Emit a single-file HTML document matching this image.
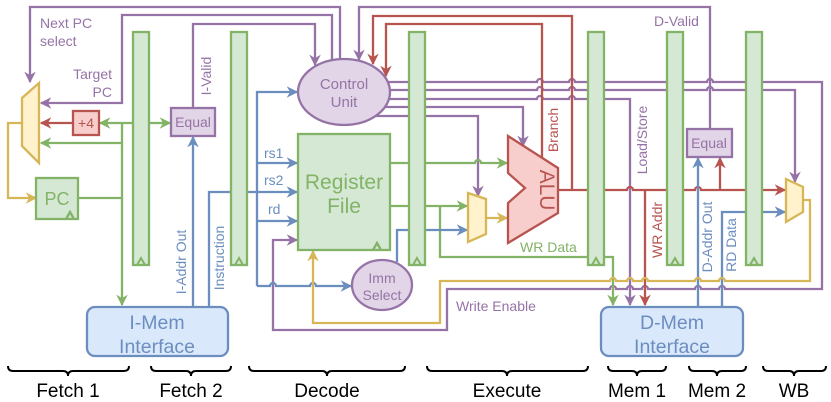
<!DOCTYPE html>
<html><head><meta charset="utf-8"><style>
html,body{margin:0;padding:0;background:#fff;}
svg{display:block;font-family:"Liberation Sans",Arial,sans-serif;}
</style></head><body>
<svg width="831" height="402" viewBox="0 0 831 402" xmlns="http://www.w3.org/2000/svg">
<defs>
<marker id="mp" viewBox="0 0 10 10" refX="9" refY="5" markerWidth="5" markerHeight="5" orient="auto" markerUnits="strokeWidth"><path d="M0,0 L10,5 L0,10 L3,5 Z" fill="#9673a6"/></marker>
<marker id="mg" viewBox="0 0 10 10" refX="9" refY="5" markerWidth="5" markerHeight="5" orient="auto" markerUnits="strokeWidth"><path d="M0,0 L10,5 L0,10 L3,5 Z" fill="#82b366"/></marker>
<marker id="mr" viewBox="0 0 10 10" refX="9" refY="5" markerWidth="5" markerHeight="5" orient="auto" markerUnits="strokeWidth"><path d="M0,0 L10,5 L0,10 L3,5 Z" fill="#b85450"/></marker>
<marker id="mb" viewBox="0 0 10 10" refX="9" refY="5" markerWidth="5" markerHeight="5" orient="auto" markerUnits="strokeWidth"><path d="M0,0 L10,5 L0,10 L3,5 Z" fill="#6c8ebf"/></marker>
<marker id="my" viewBox="0 0 10 10" refX="9" refY="5" markerWidth="5" markerHeight="5" orient="auto" markerUnits="strokeWidth"><path d="M0,0 L10,5 L0,10 L3,5 Z" fill="#d6b656"/></marker>
</defs>

<g fill="none" stroke-width="2.3">
<g stroke="#9673a6">
<path d="M340 60 V7 H30 V82" marker-end="url(#mp)"/>
<path d="M332 62 V15 H122 V103 H41" marker-end="url(#mp)"/>
<path d="M193 108 V24 H315 V65" marker-end="url(#mp)"/>
<path d="M710 129 V7 H359 V60" marker-end="url(#mp)"/>
<path d="M388 82 H537 a3 3 0 0 1 6 0 H569 a3 3 0 0 1 6 0 H707 a3 3 0 0 1 6 0 H822 V289 H725 a3 3 0 0 0 -6 0 H701 a3 3 0 0 0 -6 0 H648 a3 3 0 0 0 -6 0 H633 a3 3 0 0 0 -6 0 H616 a3 3 0 0 0 -6 0 H447 V330 H273 V240 H297" marker-end="url(#mp)"/>
<path d="M390 90 H537 a3 3 0 0 1 6 0 H569 a3 3 0 0 1 6 0 H707 a3 3 0 0 1 6 0 H795 V182" marker-end="url(#mp)"/>
<path d="M389 99 H537 a3 3 0 0 1 6 0 H569 a3 3 0 0 1 6 0 H630 V305" marker-end="url(#mp)"/>
<path d="M385 107 H523 V146" marker-end="url(#mp)"/>
<path d="M375 116 H478 V196" marker-end="url(#mp)"/>
</g>
<g stroke="#b85450">
<path d="M558 190 H627 a3 3 0 0 1 6 0 H695 a3 3 0 0 1 6 0 H785" marker-end="url(#mr)"/>
<path d="M572 190 V16 H373 V64" marker-end="url(#mr)"/>
<path d="M542 158 V24 H386 V76" marker-end="url(#mr)"/>
<path d="M645 190 V305" marker-end="url(#mr)"/>
<path d="M720 190 V158" marker-end="url(#mr)"/>
<path d="M73 123 H41" marker-end="url(#mr)"/>
</g>
<g stroke="#82b366">
<path d="M78 198 H122"/>
<path d="M122 123 V305" marker-end="url(#mg)"/>
<path d="M122 123 H100" marker-end="url(#mg)"/>
<path d="M122 123 H170" marker-end="url(#mg)"/>
<path d="M122 143 H41" marker-end="url(#mg)"/>
<path d="M390 163 H475 a3 3 0 0 1 6 0 H507" marker-end="url(#mg)"/>
<path d="M390 206 H467" marker-end="url(#mg)"/>
<path d="M440 206 V257 H613 V305" marker-end="url(#mg)"/>
</g>
<g stroke="#6c8ebf">
<path d="M193 306 V137" marker-end="url(#mb)"/>
<path d="M209 306 V192 H297" marker-end="url(#mb)"/>
<path d="M257 286 V92 H297" marker-end="url(#mb)"/>
<path d="M257 163 H297" marker-end="url(#mb)"/>
<path d="M257 221 H297" marker-end="url(#mb)"/>
<path d="M257 286 H270 a3 3 0 0 1 6 0 H310 a3 3 0 0 1 6 0 H351" marker-end="url(#mb)"/>
<path d="M397 262 V230 H467" marker-end="url(#mb)"/>
<path d="M698 306 V158" marker-end="url(#mb)"/>
<path d="M722 306 V212 H785" marker-end="url(#mb)"/>
</g>
<g stroke="#d6b656">
<path d="M22 123 H8 V198 H36" marker-end="url(#my)"/>
<path d="M486 218 H507" marker-end="url(#my)"/>
<path d="M803 200 H810 V281 H725 a3 3 0 0 0 -6 0 H701 a3 3 0 0 0 -6 0 H648 a3 3 0 0 0 -6 0 H633 a3 3 0 0 0 -6 0 H616 a3 3 0 0 0 -6 0 H440 V323 H313 V251" marker-end="url(#my)"/>
</g>
</g>

<g fill="#d5e8d4" stroke="#82b366" stroke-width="2.3">
<rect x="133" y="32" width="16" height="233"/>
<rect x="231" y="32" width="16" height="233"/>
<rect x="409" y="32" width="16" height="233"/>
<rect x="588" y="32" width="16" height="233"/>
<rect x="667" y="32" width="16" height="233"/>
<rect x="746" y="32" width="16" height="233"/>
</g>
<g fill="none" stroke="#82b366" stroke-width="2">
<path d="M137 265 L141 258 L145 265"/>
<path d="M235 265 L239 258 L243 265"/>
<path d="M413 265 L417 258 L421 265"/>
<path d="M592 265 L596 258 L600 265"/>
<path d="M671 265 L675 258 L679 265"/>
<path d="M750 265 L754 258 L758 265"/>
</g>

<g stroke-width="2.3">
<polygon points="22,98 39,83 39,163 22,146" fill="#fff2cc" stroke="#d6b656"/>
<polygon points="468,193 486,199 486,234 468,242" fill="#fff2cc" stroke="#d6b656"/>
<polygon points="786,179 803,187 803,212 786,222" fill="#fff2cc" stroke="#d6b656"/>
<rect x="36" y="178" width="42" height="41" fill="#d5e8d4" stroke="#82b366"/>
<path d="M66 219 L70 212 L74 219" fill="none" stroke="#82b366"/>
<rect x="73" y="111" width="26" height="24" fill="#f8cecc" stroke="#b85450"/>
<rect x="171" y="108" width="44" height="28" fill="#e1d5e7" stroke="#9673a6"/>
<rect x="687" y="129" width="45" height="28" fill="#e1d5e7" stroke="#9673a6"/>
<ellipse cx="344" cy="92" rx="46" ry="33" fill="#e1d5e7" stroke="#9673a6"/>
<rect x="298" y="134" width="92" height="116" fill="#d5e8d4" stroke="#82b366"/>
<path d="M373 250 L377 243 L381 250" fill="none" stroke="#82b366"/>
<ellipse cx="382" cy="285" rx="30" ry="25" fill="#e1d5e7" stroke="#9673a6"/>
<polygon points="508,136 558,168 558,213 508,243 508,203 525,188 508,173" fill="#f8cecc" stroke="#b85450"/>
<rect x="87" y="307" width="141" height="49" rx="8" fill="#dae8fc" stroke="#6c8ebf"/>
<rect x="601" y="307" width="142" height="49" rx="8" fill="#dae8fc" stroke="#6c8ebf"/>
</g>

<g font-size="14" fill="#9673a6">
<text x="40" y="28">Next PC</text>
<text x="40" y="46">select</text>
<text x="112" y="79" text-anchor="end">Target</text>
<text x="112" y="97" text-anchor="end">PC</text>
<text x="193" y="127" text-anchor="middle">Equal</text>
<text x="709" y="148" text-anchor="middle">Equal</text>
<text x="344" y="89" text-anchor="middle" font-size="15">Control</text>
<text x="344" y="107" text-anchor="middle" font-size="15">Unit</text>
<text x="382" y="283" text-anchor="middle">Imm</text>
<text x="382" y="300" text-anchor="middle">Select</text>
<text x="654" y="26">D-Valid</text>
<text x="456" y="311">Write Enable</text>
<text transform="translate(211,76) rotate(-90)" text-anchor="middle">I-Valid</text>
<text transform="translate(647,140) rotate(-90)" text-anchor="middle">Load/Store</text>
</g>
<g font-size="14" fill="#b85450">
<text x="86" y="128" text-anchor="middle">+4</text>
<text transform="translate(558,130) rotate(-90)" text-anchor="middle">Branch</text>
<text transform="translate(662,230) rotate(-90)" text-anchor="middle">WR Addr</text>
<text transform="translate(540,190) rotate(90)" text-anchor="middle" font-size="21">ALU</text>
</g>
<g font-size="14" fill="#6c8ebf">
<text x="264" y="158">rs1</text>
<text x="264" y="185">rs2</text>
<text x="268" y="214">rd</text>
<text transform="translate(186,262) rotate(-90)" text-anchor="middle">I-Addr Out</text>
<text transform="translate(224,258) rotate(-90)" text-anchor="middle">Instruction</text>
<text transform="translate(712,237) rotate(-90)" text-anchor="middle">D-Addr Out</text>
<text transform="translate(736,245) rotate(-90)" text-anchor="middle">RD Data</text>
<text x="157" y="329" text-anchor="middle" font-size="19.5">I-Mem</text>
<text x="157" y="353" text-anchor="middle" font-size="19.5">Interface</text>
<text x="672" y="329" text-anchor="middle" font-size="19.5">D-Mem</text>
<text x="672" y="353" text-anchor="middle" font-size="19.5">Interface</text>
</g>
<g fill="#82b366">
<text x="57" y="205" text-anchor="middle" font-size="18">PC</text>
<text x="344" y="189" text-anchor="middle" font-size="21">Register</text>
<text x="344" y="213" text-anchor="middle" font-size="21">File</text>
<text x="520" y="252" font-size="14">WR Data</text>
</g>

<g fill="none" stroke="#000" stroke-width="2">
<path d="M8 366 q0 5 5 5 H63 q5 0 5 5 q0 -5 5 -5 H124 q5 0 5 -5"/>
<path d="M151 366 q0 5 5 5 H186 q5 0 5 5 q0 -5 5 -5 H226 q5 0 5 -5"/>
<path d="M249 366 q0 5 5 5 H322 q5 0 5 5 q0 -5 5 -5 H400 q5 0 5 -5"/>
<path d="M427 366 q0 5 5 5 H502 q5 0 5 5 q0 -5 5 -5 H583 q5 0 5 -5"/>
<path d="M608 366 q0 5 5 5 H632 q5 0 5 5 q0 -5 5 -5 H661 q5 0 5 -5"/>
<path d="M689 366 q0 5 5 5 H712 q5 0 5 5 q0 -5 5 -5 H741 q5 0 5 -5"/>
<path d="M763 366 q0 5 5 5 H789 q5 0 5 5 q0 -5 5 -5 H821 q5 0 5 -5"/>
</g>
<g font-size="19" fill="#000" text-anchor="middle">
<text x="68" y="397">Fetch 1</text>
<text x="191" y="397">Fetch 2</text>
<text x="327" y="397">Decode</text>
<text x="507" y="397">Execute</text>
<text x="637" y="397">Mem 1</text>
<text x="717" y="397">Mem 2</text>
<text x="794" y="397">WB</text>
</g>
</svg>
</body></html>
